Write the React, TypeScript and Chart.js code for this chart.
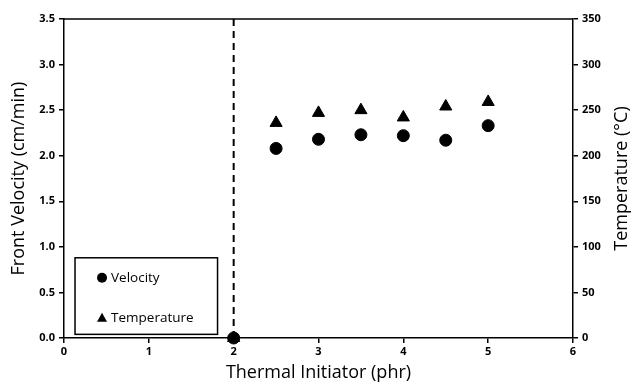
import React, { useEffect, useRef } from "react";
import { Chart, registerables } from "chart.js";
Chart.register(...registerables);

const initiator = [2, 2.5, 3, 3.5, 4, 4.5, 5];
const velocity = [0, 2.08, 2.18, 2.23, 2.22, 2.17, 2.33];
const temperature = [0, 236, 247, 250, 242, 254, 259];
const dividerX = [2, 2];
const dividerY = [0, 3.5];
const legendLabels = ["Velocity", "Temperature"];
const rightTitle = "Temperature (°C)";

const FONT = "'Open Sans', 'DejaVu Sans', sans-serif";

const framePlugin = {
  id: "frame",
  afterDraw(chart: any) {
    const { ctx, chartArea: a } = chart;
    ctx.save();
    ctx.strokeStyle = "#000";
    ctx.lineWidth = 1.5;
    ctx.beginPath();
    ctx.moveTo(a.left, a.top);
    ctx.lineTo(a.right, a.top);
    ctx.stroke();
    // right axis title, reading bottom to top
    ctx.save();
    ctx.translate(chart.width - 13, (a.top + a.bottom) / 2);
    ctx.rotate(-Math.PI / 2);
    ctx.fillStyle = "#000";
    ctx.font = `18px ${FONT}`;
    ctx.textAlign = "center";
    ctx.textBaseline = "middle";
    ctx.fillText(rightTitle, 0, 0);
    ctx.restore();
    // legend box
    const x = chart.scales.x;
    const y = chart.scales.y;
    const bx = x.getPixelForValue(0.13);
    const bw = x.getPixelForValue(1.81) - bx;
    const by = y.getPixelForValue(0.88);
    const bh = y.getPixelForValue(0.04) - by;
    ctx.fillStyle = "#fff";
    ctx.fillRect(bx, by, bw, bh);
    ctx.lineWidth = 1.5;
    ctx.strokeRect(bx, by, bw, bh);
    ctx.fillStyle = "#000";
    ctx.font = `13.5px ${FONT}`;
    ctx.textBaseline = "middle";
    ctx.textAlign = "left";
    const mx = bx + 27;
    const y1 = by + 20;
    const y2 = by + 60;
    ctx.beginPath();
    ctx.arc(mx, y1, 5, 0, Math.PI * 2);
    ctx.fill();
    ctx.beginPath();
    ctx.moveTo(mx, y2 - 5);
    ctx.lineTo(mx + 5, y2 + 4);
    ctx.lineTo(mx - 5, y2 + 4);
    ctx.closePath();
    ctx.fill();
    ctx.fillText(legendLabels[0], mx + 9, y1);
    ctx.fillText(legendLabels[1], mx + 9, y2);
    ctx.restore();
  },
};

export default function App() {
  const ref = useRef<HTMLCanvasElement>(null);
  useEffect(() => {
    const tickFont = { family: FONT, size: 11, weight: "bold" as const };
    const titleFont = { family: FONT, size: 18 };
    const chart = new Chart(ref.current!, {
      type: "scatter",
      data: {
        datasets: [
          {
            label: "divider",
            data: dividerX.map((v, i) => ({ x: v, y: dividerY[i] })),
            showLine: true,
            borderColor: "#000",
            borderWidth: 2,
            borderDash: [7, 5],
            pointRadius: 0,
            yAxisID: "y",
          },
          {
            label: legendLabels[1],
            data: initiator.map((v, i) => ({ x: v, y: temperature[i] })),
            pointStyle: "triangle",
            pointRadius: 7,
            backgroundColor: "#000",
            borderColor: "#000",
            yAxisID: "y1",
            clip: false,
          },
          {
            label: legendLabels[0],
            data: initiator.map((v, i) => ({ x: v, y: velocity[i] })),
            pointStyle: "circle",
            pointRadius: 6,
            backgroundColor: "#000",
            borderColor: "#000",
            yAxisID: "y",
            clip: false,
          },
        ],
      },
      options: {
        animation: false,
        responsive: false,
        layout: { padding: { top: 19, right: 0, left: 0, bottom: 0 } },
        plugins: { legend: { display: false }, tooltip: { enabled: false } },
        scales: {
          x: {
            type: "linear",
            min: 0,
            max: 6,
            ticks: { stepSize: 1, color: "#000", font: tickFont, padding: 2 },
            grid: { drawOnChartArea: false, color: "#000", tickLength: 5, lineWidth: 1.5 },
            border: { color: "#000", width: 1.5 },
            title: { display: true, text: "Thermal Initiator (phr)", color: "#000", font: titleFont, padding: { top: 0, bottom: 0 } },
            afterFit: (s: any) => { s.height = 46; },
          },
          y: {
            position: "left",
            min: 0,
            max: 3.5,
            ticks: { stepSize: 0.5, color: "#000", font: tickFont, padding: 4, callback: (v: any) => Number(v).toFixed(1) },
            grid: { drawOnChartArea: false, color: "#000", tickLength: 5, lineWidth: 1.5 },
            border: { color: "#000", width: 1.5 },
            title: { display: true, text: "Front Velocity (cm/min)", color: "#000", font: titleFont, padding: { top: 8, bottom: 4 } },
            afterFit: (s: any) => { s.width = 64; },
          },
          y1: {
            position: "right",
            min: 0,
            max: 350,
            ticks: { stepSize: 50, color: "#000", font: tickFont, padding: 4 },
            grid: { drawOnChartArea: false, color: "#000", tickLength: 5, lineWidth: 1.5 },
            border: { color: "#000", width: 1.5 },
            title: { display: false },
            afterFit: (s: any) => { s.width = 62; },
          },
        },
      },
      plugins: [framePlugin],
    } as any);
    return () => chart.destroy();
  }, []);
  return (
    <div style={{ position: "absolute", left: 0, top: 0, width: 635, height: 384, background: "#fff" }}>
      <canvas ref={ref} width={635} height={384} style={{ width: 635, height: 384 }} />
    </div>
  );
}
